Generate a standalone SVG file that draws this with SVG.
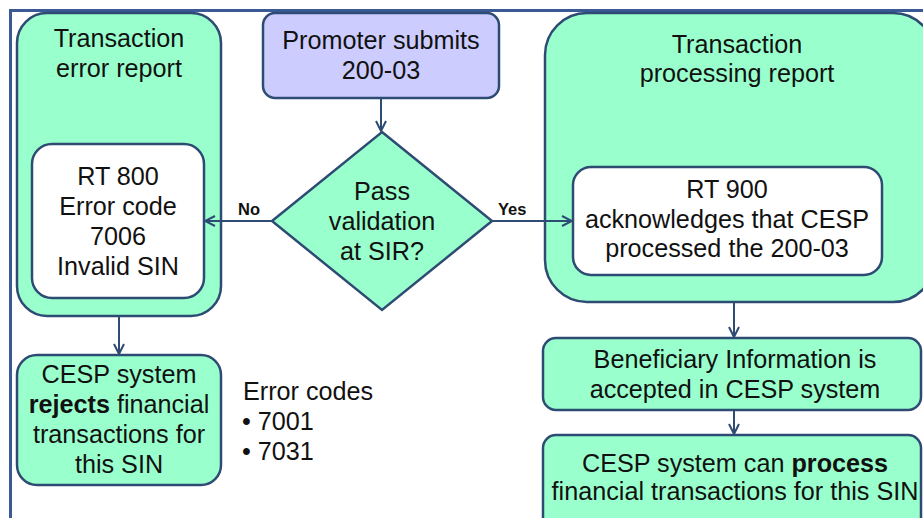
<svg xmlns="http://www.w3.org/2000/svg" width="923" height="518" viewBox="0 0 923 518">
<defs>
<marker id="arr" viewBox="0 0 12 12" refX="11" refY="6" markerWidth="12" markerHeight="12" markerUnits="userSpaceOnUse" orient="auto">
<path d="M1,1 L11,6 L1,11" fill="none" stroke="#2E4B73" stroke-width="2"/>
</marker>
<style>
.g{fill:#99FFCC;stroke:#2E4B73;stroke-width:2.5}
.w{fill:#FFFFFF;stroke:#2E4B73;stroke-width:2.5}
.p{fill:#CCCCFF;stroke:#2E4B73;stroke-width:2.5}
.t{font-family:"Liberation Sans",Arial,sans-serif;font-size:25.2px;fill:#111;text-anchor:middle}
.l{font-family:"Liberation Sans",Arial,sans-serif;font-size:16.5px;font-weight:bold;fill:#111}
.c{stroke:#2E4B73;stroke-width:2;fill:none}
</style>
</defs>
<rect width="923" height="518" fill="#FFFFFF"/>
<path d="M10.5,518 L10.5,10.5 L923,10.5" fill="none" stroke="#3A5A96" stroke-width="3"/>

<g id="error-report">
<rect class="g" x="17" y="13" width="204" height="303" rx="30"/>
<text class="t" x="119" y="47">Transaction</text>
<text class="t" x="119" y="77">error report</text>
</g>
<g id="rt800">
<rect class="w" x="32" y="144" width="172" height="154" rx="20"/>
<text class="t" x="118" y="185">RT 800</text>
<text class="t" x="118" y="215">Error code</text>
<text class="t" x="118" y="245">7006</text>
<text class="t" x="118" y="275">Invalid SIN</text>
</g>
<g id="promoter">
<rect class="p" x="263" y="13" width="236" height="85" rx="12"/>
<text class="t" x="381" y="49">Promoter submits</text>
<text class="t" x="381" y="79">200-03</text>
</g>
<g id="decision">
<polygon class="g" points="382,132 492,221 382,310 272,221"/>
<text class="t" x="382" y="200">Pass</text>
<text class="t" x="382" y="230">validation</text>
<text class="t" x="382" y="260">at SIR?</text>
</g>
<g id="processing-report">
<rect class="g" x="545" y="13" width="390" height="289" rx="42"/>
<text class="t" x="737" y="53">Transaction</text>
<text class="t" x="737" y="82">processing report</text>
</g>
<g id="rt900">
<rect class="w" x="573" y="167" width="309" height="108" rx="18"/>
<text class="t" x="727" y="198">RT 900</text>
<text class="t" x="727" y="228">acknowledges that CESP</text>
<text class="t" x="727" y="257">processed the 200-03</text>
</g>
<g id="rejects">
<rect class="g" x="17" y="355" width="204" height="130" rx="20"/>
<text class="t" x="119" y="383">CESP system</text>
<text class="t" x="119" y="413"><tspan font-weight="bold">rejects</tspan> financial</text>
<text class="t" x="119" y="443">transactions for</text>
<text class="t" x="119" y="473">this SIN</text>
</g>
<g id="error-codes">
<text class="t" x="243" y="400" style="text-anchor:start">Error codes</text>
<text class="t" x="242" y="430" style="text-anchor:start">• 7001</text>
<text class="t" x="242" y="460" style="text-anchor:start">• 7031</text>
</g>
<g id="beneficiary">
<rect class="g" x="543" y="338" width="378" height="72" rx="13"/>
<text class="t" x="735" y="368">Beneficiary Information is</text>
<text class="t" x="735" y="398">accepted in CESP system</text>
</g>
<g id="process">
<rect class="g" x="543" y="435" width="378" height="100" rx="13"/>
<text class="t" x="735" y="472">CESP system can <tspan font-weight="bold">process</tspan></text>
<text class="t" x="735" y="500">financial transactions for this SIN</text>
</g>

<g id="connectors">
<line class="c" x1="381" y1="98" x2="381" y2="131" marker-end="url(#arr)"/>
<line class="c" x1="272" y1="221" x2="205" y2="221" marker-end="url(#arr)"/>
<line class="c" x1="492" y1="221" x2="572" y2="221" marker-end="url(#arr)"/>
<line class="c" x1="119" y1="316" x2="119" y2="354" marker-end="url(#arr)"/>
<line class="c" x1="734" y1="302" x2="734" y2="337" marker-end="url(#arr)"/>
<line class="c" x1="734" y1="410" x2="734" y2="434" marker-end="url(#arr)"/>
<text class="l" x="238" y="215">No</text>
<text class="l" x="498" y="215">Yes</text>
</g>
</svg>
